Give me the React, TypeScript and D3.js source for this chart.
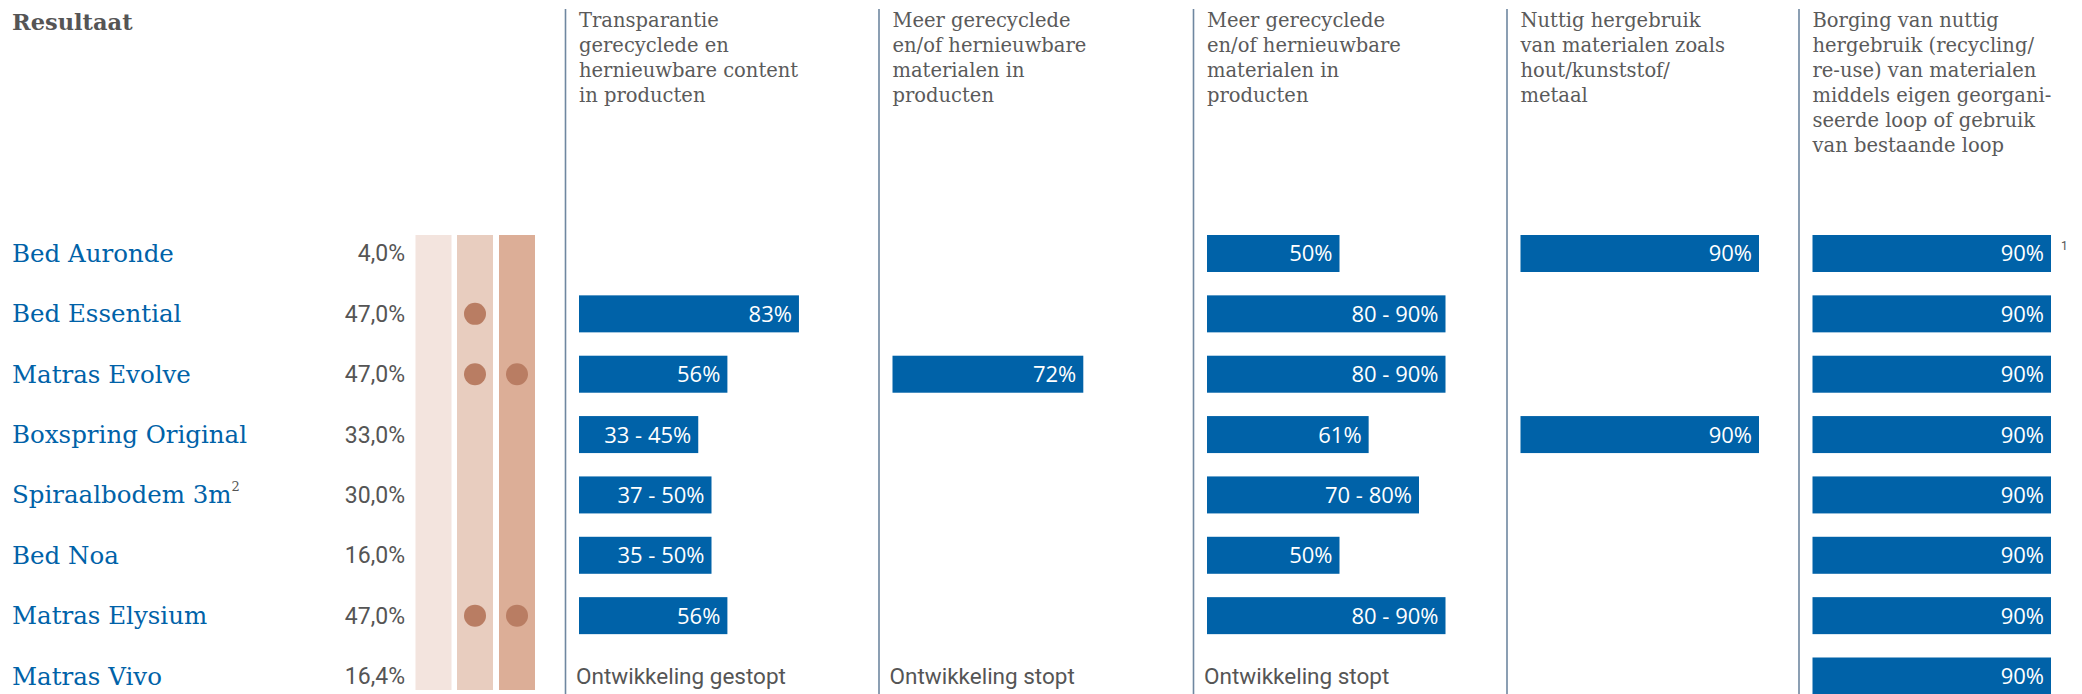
import React from "react";
import * as d3 from "d3";

// ---------- data ----------
const products = [
  "Bed Auronde",
  "Bed Essential",
  "Matras Evolve",
  "Boxspring Original",
  "Spiraalbodem 3m",
  "Bed Noa",
  "Matras Elysium",
  "Matras Vivo",
];
const productSup = ["", "", "", "", "2", "", "", ""];
const shares = ["4,0%", "47,0%", "47,0%", "33,0%", "30,0%", "16,0%", "47,0%", "16,4%"];
const dotsB = [false, true, true, false, false, false, true, false];
const dotsC = [false, false, true, false, false, false, true, false];

const headers: string[][] = [
  ["Transparantie", "gerecyclede en", "hernieuwbare content", "in producten"],
  ["Meer gerecyclede", "en/of hernieuwbare", "materialen in", "producten"],
  ["Meer gerecyclede", "en/of hernieuwbare", "materialen in", "producten"],
  ["Nuttig hergebruik", "van materialen zoals", "hout/kunststof/", "metaal"],
  [
    "Borging van nuttig",
    "hergebruik (recycling/",
    "re-use) van materialen",
    "middels eigen georgani-",
    "seerde loop of gebruik",
    "van bestaande loop",
  ],
];

// [low, high] ranges; low null = single value; null = no bar
type V = [number | null, number] | null;
const col1: V[] = [null, [null, 83], [null, 56], [33, 45], [37, 50], [35, 50], [null, 56], null];
const col2: V[] = [null, null, [null, 72], null, null, null, null, null];
const col3: V[] = [[null, 50], [80, 90], [80, 90], [null, 61], [70, 80], [null, 50], [80, 90], null];
const col4: V[] = [[null, 90], null, null, [null, 90], null, null, null, null];
const col5: V[] = [[null, 90], [null, 90], [null, 90], [null, 90], [null, 90], [null, 90], [null, 90], [null, 90]];
const columns = [col1, col2, col3, col4, col5];
const notes = ["Ontwikkeling gestopt", "Ontwikkeling stopt", "Ontwikkeling stopt", "", ""];
const footnotes = ["", "", "", "", "1"];

// ---------- layout ----------
const W = 2082;
const H = 694;
const colLineX = [565.5, 879, 1193.5, 1507, 1799];
const BLUE = "#0062a8";
const GRAY = "#555555";

export default function App() {
  const y = d3
    .scaleBand<number>()
    .domain(d3.range(products.length))
    .range([235, 694.5])
    .paddingInner(0.387)
    .paddingOuter(0);
  const x = d3.scaleLinear().domain([0, 100]).range([0, 265]);
  const bw = y.bandwidth();
  const cy = (i: number) => (y(i) as number) + bw / 2;

  const paleX = [415.5, 457, 499];
  const paleW = 36;
  const paleCols = ["#f3e4de", "#e8cdbf", "#dcae97"];

  return (
    <div style={{ position: "absolute", left: 0, top: 0 }}>
      <svg width={W} height={H} style={{ display: "block" }}>
        <rect width={W} height={H} fill="#fff" />
        <text x={12} y={30} fontFamily="'DejaVu Serif', serif" fontWeight={700} fontSize={22.5} fill={GRAY}>
          Resultaat
        </text>

        {/* pale columns */}
        {paleX.map((px, k) => (
          <rect key={k} x={px} y={235} width={paleW} height={455} fill={paleCols[k]} />
        ))}

        {/* rows */}
        {products.map((p, i) => (
          <g key={p}>
            <text
              x={12}
              y={cy(i) + 8.5}
              fontFamily="'DejaVu Serif', serif"
              fontSize={24.5}
              fill={BLUE}
            >
              {p}
              {productSup[i] && (
                <tspan dy={-12} fontSize={13} fill={GRAY}>
                  {productSup[i]}
                </tspan>
              )}
            </text>
            <text
              x={405}
              y={cy(i) + 8}
              textAnchor="end"
              fontFamily="Roboto, sans-serif"
              fontSize={23}
              fill={GRAY}
            >
              {shares[i]}
            </text>
            {dotsB[i] && <circle cx={paleX[1] + paleW / 2} cy={cy(i)} r={11} fill="#b97d63" />}
            {dotsC[i] && <circle cx={paleX[2] + paleW / 2} cy={cy(i)} r={11} fill="#b97d63" />}
          </g>
        ))}

        {/* columns */}
        {columns.map((col, c) => {
          const lx = colLineX[c];
          const bx = lx + 13.5;
          return (
            <g key={c}>
              <line x1={lx} x2={lx} y1={9} y2={H} stroke="#6f87a0" strokeWidth={1.6} />
              <text fontFamily="'DejaVu Serif', serif" fontSize={19.5} fill="#5a5a5a">
                {headers[c].map((t, k) => (
                  <tspan key={k} x={bx} y={27 + k * 25}>
                    {t}
                  </tspan>
                ))}
              </text>
              {col.map((v, i) => {
                if (!v) return null;
                const w = x(v[1]);
                const label = v[0] !== null ? `${v[0]} - ${v[1]}%` : `${v[1]}%`;
                return (
                  <g key={i}>
                    <rect x={bx} y={y(i)} width={w} height={bw} fill={BLUE} />
                    <text
                      x={bx + w - 7}
                      y={cy(i) + 8}
                      textAnchor="end"
                      fontFamily="'Open Sans', sans-serif"
                      fontSize={22}
                      fill="#fff"
                    >
                      {label}
                    </text>
                    {i === 0 && footnotes[c] && (
                      <text x={bx + w + 10} y={cy(i) - 3} fontFamily="Roboto, sans-serif" fontSize={12} fill={GRAY}>
                        {footnotes[c]}
                      </text>
                    )}
                  </g>
                );
              })}
              {notes[c] && (
                <text
                  x={bx - 3}
                  y={cy(products.length - 1) + 8}
                  fontFamily="Roboto, sans-serif"
                  fontSize={22.5}
                  fill={GRAY}
                >
                  {notes[c]}
                </text>
              )}
            </g>
          );
        })}
      </svg>
    </div>
  );
}
